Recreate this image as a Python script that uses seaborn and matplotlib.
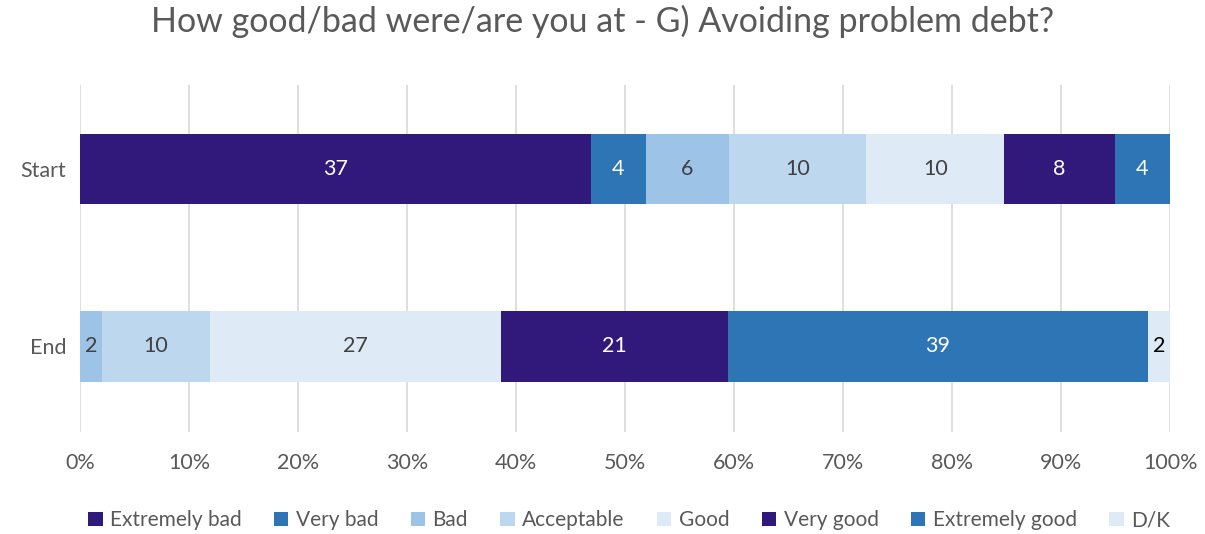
import numpy as np
import pandas as pd
import seaborn as sns
import matplotlib
matplotlib.use("Agg")
import matplotlib.pyplot as plt
from matplotlib.patches import Patch

times = ["Start", "End"]
responses = ["Extremely bad", "Very bad", "Bad", "Acceptable", "Good",
             "Very good", "Extremely good", "D/K"]
start_counts = [37, 4, 6, 10, 10, 8, 4, 0]
end_counts = [0, 0, 2, 10, 27, 21, 39, 2]
colors = ["#31197C", "#2E75B6", "#9DC3E6", "#BDD7EE", "#DEEBF7",
          "#31197C", "#2E75B6", "#DEEBF7"]
label_colors = ["white", "white", "#404040", "#404040", "#404040",
                "white", "white", "black"]
xtick_labels = ["0%", "10%", "20%", "30%", "40%", "50%", "60%", "70%", "80%", "90%", "100%"]

sns.set_theme(style="white")
plt.rcParams["font.family"] = ["Lato", "DejaVu Sans"]

counts = np.array([start_counts, end_counts], dtype=float)
pct = counts / counts.sum(axis=1, keepdims=True) * 100
cum = np.cumsum(pct, axis=1)

fig = plt.figure(figsize=(12.05, 5.34), dpi=100)
ax = fig.add_axes([0.0664, 0.191, 0.9046, 0.650])

for j in range(len(responses) - 1, -1, -1):
    df = pd.DataFrame({"time": times, "value": cum[:, j]})
    sns.barplot(data=df, x="value", y="time", order=times, color=colors[j],
                orient="h", width=0.4, linewidth=0, saturation=1, ax=ax, zorder=2)

for i in range(len(times)):
    for j in range(len(responses)):
        if counts[i, j] > 0:
            ax.text(cum[i, j] - pct[i, j] / 2, i, f"{int(counts[i, j])}",
                    ha="center", va="center", fontsize=15.5, color=label_colors[j], zorder=3)

ax.set_xlim(0, 100)
ax.set_ylim(1.485, -0.475)
ax.set_xticks(np.arange(0, 101, 10))
ax.set_xticklabels(xtick_labels)
ax.xaxis.grid(True, color="#D9D9D9", linewidth=1.2, zorder=0)
ax.set_axisbelow(True)
for s in ax.spines.values():
    s.set_visible(False)
ax.set_xlabel("")
ax.set_ylabel("")
ax.tick_params(axis="both", length=0, labelsize=15.5, labelcolor="#595959")
ax.tick_params(axis="x", pad=15)
ax.tick_params(axis="y", pad=10)

fig.suptitle("How good/bad were/are you at - G) Avoiding problem debt?",
             fontsize=24.5, color="#595959", y=0.99)

handles = [Patch(facecolor=c, edgecolor="none", label=r) for r, c in zip(responses, colors)]
fig.legend(handles=handles, loc="lower center", ncol=8, frameon=False,
           bbox_to_anchor=(0.522, -0.028), fontsize=15, handlelength=0.7, handleheight=0.7,
           handletextpad=0.35, columnspacing=1.55, labelcolor="#595959")

fig.savefig("out.png", dpi=100)
